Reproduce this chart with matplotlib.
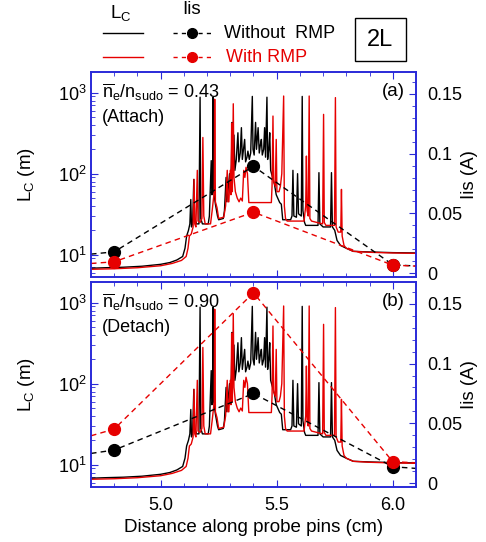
import matplotlib
matplotlib.use('Agg')
import matplotlib.pyplot as plt
from matplotlib.lines import Line2D
from matplotlib.patches import Rectangle
from matplotlib.ticker import MultipleLocator, FixedLocator, FormatStrFormatter

plt.rcParams['font.family'] = ['Liberation Sans', 'DejaVu Sans']
plt.rcParams['mathtext.fontset'] = 'custom'
plt.rcParams['mathtext.rm'] = 'Liberation Sans'
plt.rcParams['mathtext.it'] = 'Liberation Sans:italic'
plt.rcParams['mathtext.default'] = 'regular'

BLUE = '#2a2ad8'
RED = '#e60000'

# connection length along the probe pins (same for both panels)
LC_BLACK_X = [4.70, 4.76, 4.84, 4.92, 5.00, 5.04, 5.07, 5.095, 5.105, 5.112,
              5.120, 5.126, 5.130, 5.133, 5.138, 5.143, 5.147, 5.155, 5.165,
              5.170, 5.173, 5.180, 5.205, 5.210, 5.218, 5.221, 5.224, 5.226,
              5.229, 5.236, 5.245, 5.250, 5.270, 5.275, 5.282, 5.285, 5.290,
              5.297, 5.300, 5.305, 5.308, 5.311, 5.316, 5.320, 5.326, 5.333,
              5.337, 5.343, 5.348, 5.352, 5.357, 5.362, 5.366, 5.372, 5.376,
              5.382, 5.388, 5.395, 5.398, 5.403, 5.409, 5.413, 5.420, 5.425,
              5.430, 5.434, 5.438, 5.444, 5.448, 5.452, 5.458, 5.461, 5.466,
              5.470, 5.474, 5.480, 5.490, 5.498, 5.513, 5.520, 5.526, 5.560,
              5.566, 5.570, 5.574, 5.585, 5.590, 5.594, 5.606, 5.610, 5.613,
              5.620, 5.625, 5.678, 5.682, 5.686, 5.700, 5.732, 5.736, 5.740,
              5.750, 5.760, 5.775, 5.800, 5.830, 5.900, 6.000, 6.100]
LC_BLACK = [6.8, 6.9, 7.0, 7.2, 7.6, 8.0, 8.6, 9.5, 12, 17,
            20, 24, 48, 22, 25, 85, 28, 24, 24,
            880, 28, 24, 24, 30, 145, 55, 60, 880,
            60, 42, 30, 27, 28, 35, 90, 45, 60,
            100, 60, 130, 430, 120, 300, 110, 150, 320,
            140, 180, 370, 150, 200, 265, 140, 160, 190,
            150, 180, 900, 200, 170, 430, 200, 370, 180,
            230, 265, 170, 200, 370, 160, 880, 150, 200,
            320, 110, 95, 75, 55, 44, 42, 27, 27,
            30, 110, 30, 29, 100, 32, 30, 900, 35,
            25, 23, 23, 103, 24, 22, 22, 103, 22,
            20, 15, 13, 12, 11, 10.8, 10.6, 10.5]

LC_RED_X = [4.70, 4.80, 4.90, 5.00, 5.05, 5.09, 5.110, 5.118, 5.124, 5.132,
            5.140, 5.144, 5.147, 5.152, 5.158, 5.161, 5.170, 5.178, 5.182,
            5.186, 5.192, 5.215, 5.222, 5.228, 5.231, 5.233, 5.236, 5.243,
            5.250, 5.272, 5.280, 5.287, 5.290, 5.294, 5.300, 5.303, 5.306,
            5.309, 5.313, 5.316, 5.322, 5.330, 5.338, 5.345, 5.352, 5.358,
            5.363, 5.368, 5.374, 5.380, 5.477, 5.480, 5.484, 5.487, 5.494,
            5.498, 5.501, 5.510, 5.516, 5.522, 5.530, 5.533, 5.538, 5.545,
            5.618, 5.625, 5.628, 5.631, 5.636, 5.640, 5.643, 5.650, 5.698,
            5.702, 5.705, 5.712, 5.749, 5.753, 5.756, 5.765, 5.776, 5.779,
            5.782, 5.790, 5.800, 5.830, 5.900, 6.000, 6.100]
LC_RED = [6.6, 6.7, 6.9, 7.3, 7.8, 8.5, 9.5, 12, 17, 18,
          22, 85, 24, 22, 110, 26, 25, 28, 280,
          30, 24, 24, 35, 50, 60, 830, 45, 38,
          28, 29, 40, 110, 45, 45, 110, 55, 420,
          60, 730, 90, 60, 50, 45, 50, 46, 110,
          90, 120, 100, 44, 44, 70, 515, 80, 70,
          265, 60, 60, 70, 100, 910, 40, 28, 26,
          26, 40, 165, 35, 30, 910, 28, 26, 24,
          540, 25, 23, 23, 870, 22, 19, 19, 64,
          17, 13, 12, 11, 10.7, 10.5, 10.4]

# ion saturation current at the probe pins (edge values give the line beyond)
IIS_X = [4.7, 4.8, 5.4, 6.0, 6.1]
IIS_A_OFF = [0.0161, 0.0180, 0.0894, 0.0072, 0.0062]
IIS_A_ON = [0.0083, 0.0097, 0.0511, 0.0069, 0.0061]
IIS_B_OFF = [0.0250, 0.0278, 0.0750, 0.0139, 0.0125]
IIS_B_ON = [0.0397, 0.0453, 0.1590, 0.0181, 0.0172]

RATIOS = ['0.43', '0.90']
STATES = ['(Attach)', '(Detach)']
TAGS = ['(a)', '(b)']


def draw_panel(ax, iis_off, iis_on, ratio, state, tag):
    """
    draws the connection length on the left axis and the ion
    saturation current on a twin right axis
    """
    ax.plot(LC_BLACK_X, LC_BLACK, color='black', lw=1)
    ax.plot(LC_RED_X, LC_RED, color=RED, lw=1)
    ax.set_yscale('log')
    ax.set_ylim(5.3, 1800)
    ax.set_xlim(4.7, 6.1)
    ax.xaxis.set_major_locator(MultipleLocator(0.5))
    ax.xaxis.set_minor_locator(MultipleLocator(0.1))
    ax.xaxis.set_major_formatter(FormatStrFormatter('%.1f'))
    ax.tick_params(axis='x', which='both', direction='in', top=True,
                   color=BLUE, labelsize=13, pad=7)
    ax.tick_params(axis='y', which='both', direction='in', right=False,
                   color=BLUE, labelsize=13, pad=3)
    ax.tick_params(which='major', length=5)
    ax.tick_params(which='minor', length=3)
    ax.set_ylabel(r'L$_\mathrm{C}$ (m)', fontsize=13.5)
    ax.yaxis.set_label_coords(-0.165, 0.5)

    tw = ax.twinx()
    tw.plot(IIS_X, iis_off, color='black', lw=1, ls=(0, (4, 3)),
            marker='o', ms=8.5, markevery=[1, 2, 3])
    tw.plot(IIS_X, iis_on, color=RED, lw=1, ls=(0, (4, 3)),
            marker='o', ms=8.5, markevery=[1, 2, 3])
    tw.set_ylim(-0.003, 0.168)
    tw.yaxis.set_major_locator(FixedLocator([0, 0.05, 0.1, 0.15]))
    tw.yaxis.set_minor_locator(MultipleLocator(0.01))
    tw.yaxis.set_major_formatter(FormatStrFormatter('%g'))
    tw.tick_params(axis='y', which='both', direction='in', color=BLUE,
                   labelsize=13, pad=8)
    tw.tick_params(which='major', length=5)
    tw.tick_params(which='minor', length=3)
    tw.set_ylabel('Iis (A)', fontsize=13.5)
    tw.yaxis.set_label_coords(1.14, 0.5)

    for a in (ax, tw):
        for sp in a.spines.values():
            sp.set_color(BLUE)
            sp.set_linewidth(1.2)

    ax.text(0.034, 0.90, r'$\overline{n}_e/n_{sudo}$ = ' + ratio,
            transform=ax.transAxes, fontsize=13, va='center')
    ax.text(0.034, 0.776, state, transform=ax.transAxes, fontsize=13,
            va='center')
    ax.text(0.966, 0.905, tag, transform=ax.transAxes, fontsize=13.5,
            ha='right', va='center')
    return tw


def main():
    fig = plt.figure(figsize=(4.86, 5.42), dpi=100)
    ax_top = fig.add_axes([0.1872, 0.4889, 0.6687, 0.3782])
    ax_bot = fig.add_axes([0.1872, 0.1015, 0.6687, 0.3782])

    draw_panel(ax_top, IIS_A_OFF, IIS_A_ON, RATIOS[0], STATES[0], TAGS[0])
    draw_panel(ax_bot, IIS_B_OFF, IIS_B_ON, RATIOS[1], STATES[1], TAGS[1])
    ax_top.tick_params(labelbottom=False)
    ax_bot.set_xlabel('Distance along probe pins (cm)', fontsize=13.5,
                      labelpad=4)

    # hand made legend above the panels
    fig.text(121 / 486, 1 - 13 / 542, r'L$_\mathrm{C}$', fontsize=13.5,
             ha='center', va='center')
    fig.text(192 / 486, 1 - 10 / 542, 'Iis', fontsize=13.5,
             ha='center', va='center')
    for y, c in [(33, 'black'), (57, RED)]:
        fig.add_artist(Line2D([103 / 486, 143 / 486], [1 - y / 542] * 2,
                              color=c, lw=1))
        fig.add_artist(Line2D([173 / 486, 192 / 486, 212 / 486],
                              [1 - y / 542] * 3, color=c, lw=1,
                              ls=(0, (3, 3)), marker='o', ms=7,
                              markevery=[1]))
    fig.text(224 / 486, 1 - 34 / 542, 'Without  RMP', fontsize=13,
             va='center')
    fig.text(226 / 486, 1 - 58 / 542, 'With RMP', fontsize=13,
             va='center', color=RED)
    fig.add_artist(Rectangle((355 / 486, 1 - 61 / 542), 51 / 486, 43 / 542,
                             transform=fig.transFigure, fill=False,
                             ec='black', lw=1))
    fig.text(380 / 486, 1 - 40 / 542, '2L', fontsize=17, ha='center',
             va='center')

    fig.savefig('out.png', dpi=100)


if __name__ == '__main__':
    main()
